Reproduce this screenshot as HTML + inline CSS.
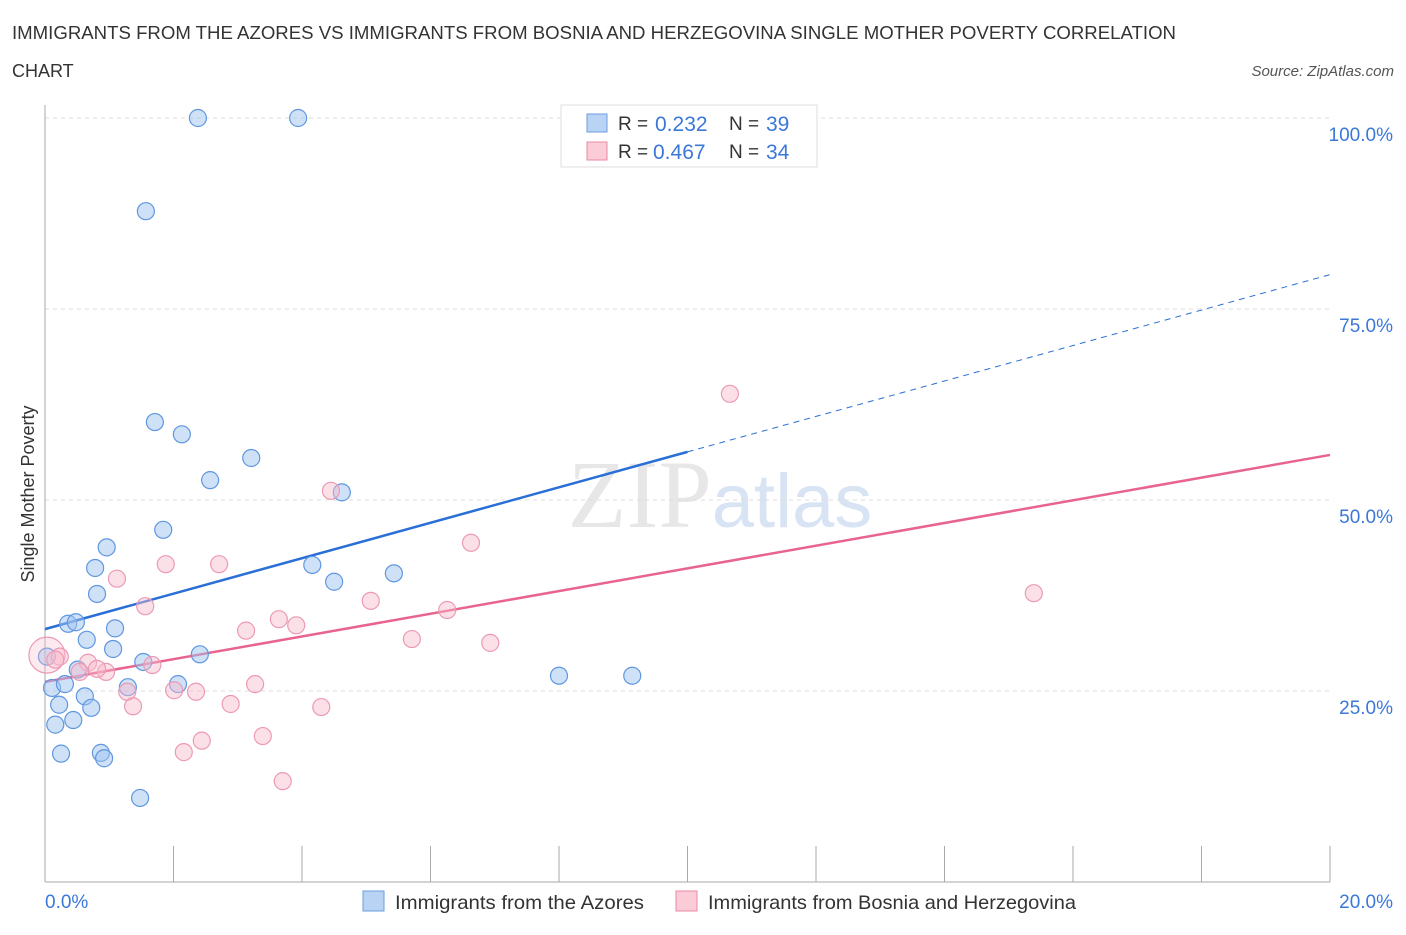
<!DOCTYPE html>
<html><head><meta charset="utf-8"><style>
body{margin:0;background:#fff;font-family:"Liberation Sans",sans-serif;}
</style></head><body>
<svg id="chart" width="1406" height="930" xmlns="http://www.w3.org/2000/svg" font-family="Liberation Sans, sans-serif">
<text x="12" y="39" font-size="18" fill="#333" textLength="1164" lengthAdjust="spacingAndGlyphs">IMMIGRANTS FROM THE AZORES VS IMMIGRANTS FROM BOSNIA AND HERZEGOVINA SINGLE MOTHER POVERTY CORRELATION</text>
<text x="12" y="77" font-size="18" fill="#333">CHART</text>
<text x="1394" y="76" font-size="15" font-style="italic" fill="#555" text-anchor="end">Source: ZipAtlas.com</text>
<text x="720" y="527" font-size="96" text-anchor="middle" fill="#ddd" opacity="0.7"><tspan font-family="Liberation Serif, serif">ZIP</tspan><tspan fill="#c8d8ee" font-size="76">atlas</tspan></text>
<g id="grid"></g><g id="axes"></g><g id="lines"></g><g id="pts"></g>
<text transform="translate(34,494) rotate(-90)" font-size="18" fill="#333" text-anchor="middle">Single Mother Poverty</text>
<g>
<rect x="561" y="105" width="256" height="62" fill="#fff" stroke="#ddd"/>
<rect x="587" y="114" width="20" height="18" fill="#b9d3f5" stroke="#6a9ce0"/>
<text x="618" y="130" font-size="19" fill="#333">R =</text><text x="655" y="131" font-size="21" fill="#3b78d8">0.232</text>
<text x="729" y="130" font-size="19" fill="#333">N =</text><text x="766" y="131" font-size="21" fill="#3b78d8">39</text>
<rect x="587" y="142" width="20" height="18" fill="#fbcbd8" stroke="#e88aa6"/>
<text x="618" y="158" font-size="19" fill="#333">R =</text><text x="653" y="159" font-size="21" fill="#3b78d8">0.467</text>
<text x="729" y="158" font-size="19" fill="#333">N =</text><text x="766" y="159" font-size="21" fill="#3b78d8">34</text>
</g>
<g>
<rect x="363" y="891" width="21" height="20" fill="#b9d3f5" stroke="#6a9ce0"/>
<text x="395" y="909" font-size="19.5" fill="#333" textLength="249" lengthAdjust="spacingAndGlyphs">Immigrants from the Azores</text>
<rect x="676" y="891" width="21" height="20" fill="#fbcbd8" stroke="#e88aa6"/>
<text x="708" y="909" font-size="19.5" fill="#333" textLength="368" lengthAdjust="spacingAndGlyphs">Immigrants from Bosnia and Herzegovina</text>
</g>
</svg>
<script>
const blueX=[2.38,3.94,1.57,1.71,2.13,3.21,2.57,4.62,1.84,0.96,0.78,4.16,4.50,5.43,0.81,0.36,0.48,1.09,0.65,1.06,0.03,1.53,2.41,0.51,0.11,0.31,1.29,2.07,0.62,0.22,0.72,0.44,0.16,0.87,0.25,0.92,1.48,8.00,9.14];
const blueY=[100,100,87.8,60.2,58.6,55.5,52.6,51.0,46.1,43.8,41.1,41.5,39.3,40.4,37.7,33.8,34.0,33.2,31.7,30.5,29.5,28.8,29.8,27.8,25.4,25.9,25.5,25.9,24.3,23.2,22.8,21.2,20.6,16.9,16.8,16.2,11.0,27.0,27.0];
const pinkX=[0.03,0.23,10.66,4.45,6.63,1.88,2.71,1.12,1.56,5.07,6.26,15.39,3.64,3.91,3.13,5.71,6.93,0.16,0.67,0.95,0.81,0.54,1.67,3.27,1.28,2.01,2.35,1.37,2.89,4.30,3.39,2.44,2.16,3.70];
const pinkY=[29.7,29.5,63.9,51.2,44.4,41.6,41.6,39.7,36.1,36.8,35.6,37.8,34.4,33.6,32.9,31.8,31.3,29.1,28.7,27.5,27.9,27.5,28.4,25.9,24.9,25.1,24.9,23.0,23.3,22.9,19.1,18.5,17.0,13.2];
const blueTrend=[33.1,79.5];
const pinkTrend=[26.2,55.9];
const yTicks=[25,50,75,100];
const yTickLabels=["25.0%","50.0%","75.0%","100.0%"];
const xTickLabels=["0.0%","20.0%"];
const NS="http://www.w3.org/2000/svg";
const sx=v=>45+v/20*1285, sy=v=>882-v/100*764;
function mk(tag,at,parent){const e=document.createElementNS(NS,tag);for(const k in at)e.setAttribute(k,at[k]);document.getElementById(parent).appendChild(e);return e;}
yTicks.forEach((t,i)=>{
 const g=mk('line',{x1:45,x2:1330,y1:sy(t),y2:sy(t),stroke:'#ddd','stroke-dasharray':'4,4'},'grid');
 
 
 const l=mk('text',{x:1393,y:sy(t)+23,'font-size':19,fill:'#3b78d8','text-anchor':'end'},'axes');
 l.textContent=yTickLabels[i];
 
 
});
let a=mk('line',{x1:45,x2:45,y1:105,y2:882,stroke:'#aaa'},'axes');


a=mk('line',{x1:45,x2:1330,y1:882,y2:882,stroke:'#aaa'},'axes');


for(let i=0;i<=10;i++){const t=mk('line',{x1:sx(i*2),x2:sx(i*2),y1:846,y2:882,stroke:'#aaa'},'axes');
 
 }
[[0,45,'start'],[1,1393,'end']].forEach(([i,x,an])=>{const l=mk('text',{x:x,y:908,'font-size':19,fill:'#3b78d8','text-anchor':an},'axes');l.textContent=xTickLabels[i];
 
 });
function ty(tr,x){return tr[0]+(tr[1]-tr[0])*x/20;}
let ln=mk('line',{x1:sx(0),y1:sy(ty(blueTrend,0)),x2:sx(10),y2:sy(ty(blueTrend,10)),stroke:'#2a6fd6','stroke-width':2.5},'lines');


ln=mk('line',{x1:sx(10),y1:sy(ty(blueTrend,10)),x2:sx(20),y2:sy(ty(blueTrend,20)),stroke:'#2a6fd6','stroke-width':1,'stroke-dasharray':'6,5'},'lines');


ln=mk('line',{x1:sx(0),y1:sy(ty(pinkTrend,0)),x2:sx(20),y2:sy(ty(pinkTrend,20)),stroke:'#e8648f','stroke-width':2.5},'lines');


blueX.forEach((x,i)=>{const c=mk('circle',{cx:sx(x),cy:sy(blueY[i]),r:8.5,fill:'rgba(160,196,240,0.5)',stroke:'#5f97e0','stroke-width':1.2},'pts');
 
 });
pinkX.forEach((x,i)=>{const c=mk('circle',{cx:sx(x),cy:sy(pinkY[i]),r:i===0?18:8.5,fill:i===0?'rgba(248,186,204,0.3)':'rgba(248,186,204,0.45)',stroke:'#ec9ab4','stroke-width':1.2},'pts');
 
 });
</script>
</body></html>
